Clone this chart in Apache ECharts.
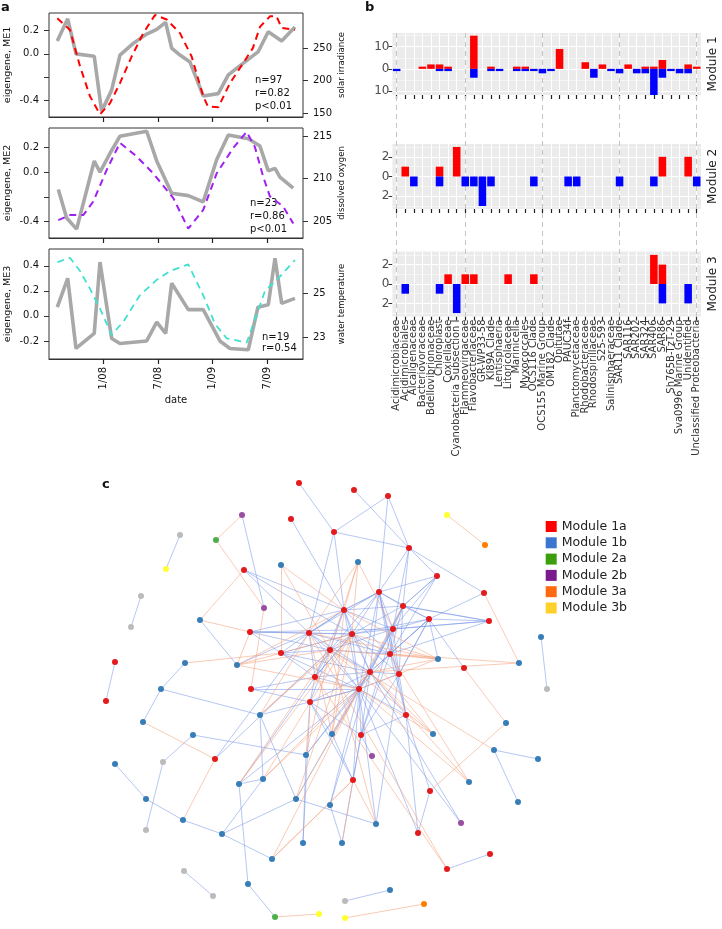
<!DOCTYPE html>
<html><head><meta charset="utf-8">
<script src="https://cdn.jsdelivr.net/npm/echarts@6/dist/echarts.min.js"></script>
<style>html,body{margin:0;padding:0;background:#fff}#c{width:722px;height:929px}</style>
</head><body><div id="c"></div>
<script>
// ---------- Panel a data (x = months since Jan 2007) ----------
const tickMonths = [12, 18, 24, 30];
const tickLabels = ['1/08', '7/08', '1/09', '7/09'];

const me1Months = [6.96, 8.10, 9.01, 11.01, 11.82, 12.92, 13.83, 15.29, 16.76, 17.86, 18.84, 19.5, 20.41, 21.51, 22.96, 24.61, 25.71, 27.18, 29.0, 30.09, 31.56, 33.02];
const me1 = [0.11, 0.30, 0.0, -0.02, -0.49, -0.31, -0.01, 0.09, 0.17, 0.21, 0.27, 0.05, -0.01, -0.07, -0.36, -0.34, -0.18, -0.09, 0.02, 0.19, 0.11, 0.23];
const solarMonths = [6.96, 8.35, 9.45, 10.54, 11.64, 12.73, 13.83, 15.11, 16.39, 17.67, 18.95, 20.41, 21.69, 22.96, 23.48, 24.61, 25.89, 27.35, 28.4, 29.2, 30.29, 31.0, 31.56, 33.02];
const solar = [296, 278, 222, 176, 148, 165, 196, 237, 273, 301, 294, 273, 237, 176, 160, 159, 196, 227, 250, 283, 299, 299, 281, 278];

const me2Months = [7.07, 7.99, 9.08, 11.01, 11.64, 12.73, 13.83, 16.76, 17.86, 19.5, 21.32, 22.96, 24.43, 25.71, 27.9, 29.18, 30.09, 30.83, 31.37, 32.83];
const me2 = [-0.14, -0.37, -0.46, 0.09, 0.0, 0.15, 0.29, 0.33, 0.09, -0.17, -0.19, -0.24, 0.10, 0.30, 0.27, 0.21, 0.01, 0.03, -0.04, -0.13];
const oxyMonths = [7.07, 8.35, 9.81, 10.9, 12.37, 13.83, 15.66, 17.48, 19.68, 21.32, 22.96, 24.43, 26.25, 27.72, 28.63, 29.54, 30.27, 31.73, 32.83];
const oxygen = [205.1, 205.7, 205.7, 207.3, 211.0, 214.2, 212.6, 210.6, 207.7, 204.1, 206.3, 210.6, 213.6, 215.5, 213.7, 210.2, 207.9, 206.7, 204.7];

const me3Months = [6.96, 8.10, 9.01, 11.01, 11.64, 12.92, 13.83, 16.76, 17.86, 18.84, 19.5, 21.32, 22.96, 24.79, 25.89, 27.9, 28.96, 30.09, 30.83, 31.56, 33.02];
const me3 = [0.07, 0.30, -0.26, -0.14, 0.43, -0.18, -0.22, -0.20, -0.05, -0.14, 0.26, 0.05, 0.05, -0.20, -0.26, -0.27, 0.07, 0.09, 0.46, 0.10, 0.14];
const tempMonths = [6.96, 8.35, 9.45, 10.54, 11.64, 12.92, 14.19, 16.02, 17.86, 19.32, 21.32, 22.96, 24.25, 25.53, 27.72, 28.63, 29.73, 31.37, 33.02];
const temp = [26.4, 26.6, 26.0, 25.2, 24.3, 23.1, 23.7, 24.9, 25.6, 26.0, 26.3, 24.9, 23.6, 22.95, 22.75, 23.8, 25.1, 25.75, 26.5];

const stats1 = ['n=97', 'r=0.82', 'p<0.01'];
const stats2 = ['n=23', 'r=0.86', 'p<0.01'];
const stats3 = ['n=19', 'r=0.54'];

// ---------- Panel b data ----------
const categories = ['Acidimicrobiaceae', 'Acidimicrobiales', 'Alcaligenaceae', 'Bacteriovoraceae', 'Bdellovibrionaceae', 'Chloroplast', 'Coxiellaceae', 'Cyanobacteria Subsection I', 'Flammeovirgaceae', 'Flavobacteriaceae', 'GR-WP33-58', 'KI89A Clade', 'Lentisphaeria', 'Litoricolaceae', 'Marinicella', 'Myxococcales', 'OCS116 Clade', 'OCS155 Marine Group', 'OM182 Clade', 'Opitutae', 'PAUC34f', 'Planctomycetaceae', 'Rhodobacteraceae', 'Rhodospirillaceae', 'S25-593', 'Salinisphaeraceae', 'SAR11 Clade', 'SAR116', 'SAR202', 'SAR324', 'SAR406', 'SAR86', 'Sh765B-TzT-29', 'Sva0996 Marine Group', 'Unidentified', 'Unclassified Proteobacteria'];
const m1Pos = [0, 0, 0, 1, 2, 2, 1, 0, 0, 15, 0, 1, 0, 0, 1, 1, 0, 0, 0, 9, 0, 0, 3, 0, 2, 0, 0, 2, 0, 1, 1, 4, 0, 0, 2, 1];
const m1Neg = [-1, 0, 0, 0, 0, -1, -1, 0, 0, -4, 0, -1, -1, 0, -1, -1, -1, -2, -1, 0, 0, 0, 0, -4, 0, -1, -2, 0, -2, -2, -12, -4, -1, -2, -2, 0];
const m2Pos = [0, 1, 0, 0, 0, 1, 0, 3, 0, 0, 0, 0, 0, 0, 0, 0, 0, 0, 0, 0, 0, 0, 0, 0, 0, 0, 0, 0, 0, 0, 0, 2, 0, 0, 2, 0];
const m2Neg = [0, 0, -1, 0, 0, -1, 0, 0, -1, -1, -3, -1, 0, 0, 0, 0, -1, 0, 0, 0, -1, -1, 0, 0, 0, 0, -1, 0, 0, 0, -1, 0, 0, 0, 0, -1];
const m3Pos = [0, 0, 0, 0, 0, 0, 1, 0, 1, 1, 0, 0, 0, 1, 0, 0, 1, 0, 0, 0, 0, 0, 0, 0, 0, 0, 0, 0, 0, 0, 3, 2, 0, 0, 0, 0];
const m3Neg = [0, -1, 0, 0, 0, -1, 0, -3, 0, 0, 0, 0, 0, 0, 0, 0, 0, 0, 0, 0, 0, 0, 0, 0, 0, 0, 0, 0, 0, 0, 0, -2, 0, 0, -2, 0];
const moduleNames = ['Module 1', 'Module 2', 'Module 3'];
const dashedCats = ['Acidimicrobiaceae', 'Flammeovirgaceae', 'OCS155 Marine Group', 'SAR11 Clade', 'Unclassified Proteobacteria'];

// ---------- Panel c data (layout coordinates) ----------
const legendNames = ['Module 1a', 'Module 1b', 'Module 2a', 'Module 2b', 'Module 3a', 'Module 3b'];
// 0=1a,1=1b,2=2a,3=2b,4=3a,5=3b,6=unassigned
const nodeX = [299, 354, 388, 242, 291, 180, 216, 334, 409, 166, 244, 281, 358, 379, 141, 264, 344, 403, 131, 200, 250, 309, 352, 393, 281, 330, 390, 115, 185, 237, 315, 370, 399, 161, 251, 359, 447, 485, 437, 484, 429, 489, 541, 438, 519, 464, 547, 106, 310, 143, 260, 406, 193, 332, 361, 306, 372, 215, 163, 115, 263, 239, 353, 146, 296, 330, 183, 376, 146, 222, 303, 342, 272, 184, 248, 390, 213, 345, 275, 506, 433, 494, 538, 469, 430, 518, 461, 418, 490, 447, 424, 319, 345];
const nodeY = [483, 490, 496, 515, 519, 535, 540, 532, 548, 569, 570, 565, 562, 592, 596, 608, 610, 606, 627, 620, 632, 633, 634, 629, 653, 650, 654, 662, 663, 665, 677, 672, 674, 689, 689, 689, 515, 545, 576, 593, 619, 621, 637, 659, 663, 668, 689, 701, 702, 722, 715, 715, 735, 734, 735, 755, 756, 759, 762, 764, 779, 784, 780, 799, 799, 805, 820, 824, 830, 834, 843, 843, 859, 871, 884, 890, 896, 901, 917, 723, 734, 750, 759, 782, 791, 802, 823, 833, 854, 869, 904, 914, 918];
const nodeModule = [0, 0, 0, 3, 0, 6, 2, 0, 0, 5, 0, 1, 1, 0, 6, 3, 0, 0, 6, 1, 0, 0, 0, 0, 0, 0, 0, 0, 1, 1, 0, 0, 0, 1, 0, 0, 5, 4, 0, 0, 0, 0, 1, 1, 1, 0, 6, 0, 0, 1, 1, 0, 1, 1, 0, 1, 3, 0, 6, 1, 1, 1, 0, 1, 1, 1, 1, 1, 6, 1, 1, 1, 1, 6, 1, 1, 6, 6, 2, 1, 1, 1, 1, 1, 0, 1, 3, 0, 0, 0, 4, 5, 5];
const posEdges = [[0,7],[7,2],[1,8],[7,8],[7,16],[7,21],[4,16],[3,15],[10,16],[2,8],[2,13],[8,39],[8,38],[8,17],[8,23],[38,17],[38,13],[39,40],[41,17],[41,23],[41,40],[40,43],[40,45],[42,46],[81,82],[81,85],[84,87],[89,88],[75,77],[27,47],[33,49],[28,33],[52,58],[52,55],[50,60],[33,50],[50,64],[58,68],[59,63],[63,66],[66,69],[69,72],[69,60],[69,64],[61,74],[74,78],[73,76],[60,61],[64,67],[55,70],[65,71],[62,54],[62,48],[54,56],[14,18],[5,9],[19,29],[61,35],[61,30],[57,25],[57,21],[86,35],[86,31],[87,35],[29,21],
[13,16],[13,17],[13,21],[13,22],[13,23],[13,25],[13,26],[13,31],[13,32],[13,35],[13,40],[16,17],[16,21],[16,22],[16,23],[16,25],[16,26],[16,31],[16,35],[16,30],[17,22],[17,23],[17,26],[17,31],[17,32],[17,35],[17,40],[20,21],[20,22],[20,24],[20,25],[20,23],[21,22],[21,24],[21,25],[21,30],[21,31],[21,35],[21,26],[22,23],[22,25],[22,26],[22,31],[22,32],[22,35],[22,30],[23,26],[23,31],[23,32],[23,35],[23,25],[24,25],[24,30],[24,35],[24,31],[25,26],[25,30],[25,31],[25,35],[25,48],[26,31],[26,32],[26,35],[26,51],[30,31],[30,35],[30,48],[30,34],[31,32],[31,35],[31,51],[31,54],[32,35],[32,51],[32,40],[35,48],[35,54],[35,51],[35,62],[34,48],[34,35],[38,23],[38,26],[40,26],[40,32],[48,54],[48,53],[51,54],[51,84],[51,87],[35,53],[53,62],[50,35],[55,35],[55,31],[64,35],[65,35],[65,31],[67,35],[67,32],[71,54],[70,48],
[13,8],[16,13],[17,38],[21,16],[22,40],[26,40],[23,40],[31,40],[17,41],[23,41],[26,41],[30,22],[24,22],[20,16],[10,21],[10,22],[31,48],[32,54],[26,54],[23,54],[13,51]];
const negEdges = [[3,6],[6,15],[10,19],[11,25],[11,24],[12,16],[12,22],[12,25],[12,23],[15,34],[19,20],[28,24],[29,20],[29,22],[29,25],[29,35],[36,37],[39,44],[45,79],[79,84],[62,71],[62,72],[49,57],[57,66],[90,92],[78,91],[43,22],[43,25],[43,35],[43,31],[43,26],[80,35],[80,31],[80,25],[80,22],[83,35],[83,31],[83,26],[81,25],[89,21],[89,30],[53,16],[53,21],[53,22],[53,17],[55,48],[55,25],[60,35],[60,22],[60,31],[64,22],[64,31],[67,62],[67,25],[72,62],[72,35],[50,21],[50,22],[50,25],[61,22],[61,25],[43,21],[43,16],[44,26],[44,31],[29,16],[11,16],[12,21]];

// ---------- styles ----------
const FONT = 'DejaVu Sans';
const legendColors = ['#ff0000', '#3a75cf', '#3d9e0c', '#7a1a8e', '#ff6a10', '#ffcf2a'];
const nodeColors = ['#e41a1c', '#377eb8', '#4daf4a', '#984ea3', '#ff7f00', '#ffff33', '#bbbbbb'];

const chart = echarts.init(document.getElementById('c'));
const zip = (a, b) => a.map((v, i) => [v, b[i]]);

const boxGrid = (top, h) => ({left: 49, top: top, width: 254, height: h, show: true, borderColor: '#333', borderWidth: 1, backgroundColor: 'transparent'});
const bGrid = (top, h) => ({left: 392.4, top: top, width: 308.6, height: h, show: true, backgroundColor: '#ebebeb', borderWidth: 0});
const grid = [boxGrid(13, 104), boxGrid(128, 110), boxGrid(249, 110),
  bGrid(33, 62), bGrid(144, 65), bGrid(251.5, 65),
  {left: 392.4, top: 33, width: 308.6, height: 284, show: false},
  {left: 90, top: 470, width: 600, height: 459, show: false}];

const aX = (gi, showLabels) => ({
  type: 'value', gridIndex: gi, min: 6.05, max: 33.9,
  axisLine: {show: true, onZero: false, lineStyle: {color: '#333', width: 1}}, splitLine: {show: false},
  axisTick: {show: true, length: 5, lineStyle: {color: '#222', width: 1.2}, customValues: tickMonths},
  axisLabel: {show: showLabels, customValues: tickMonths, rotate: 90, margin: 8, fontSize: 10, fontFamily: FONT, color: '#111',
    formatter: v => tickLabels[tickMonths.indexOf(v)] || ''},
  name: showLabels ? 'date' : '', nameLocation: 'middle', nameGap: 36, nameTextStyle: {fontSize: 10, fontFamily: FONT, color: '#111'}
});
const aY = (gi, pos, min, max, ticks, labels, name, fmt, nameGap, fs) => ({
  type: 'value', gridIndex: gi, position: pos, min: min, max: max,
  axisLine: {show: false, onZero: false}, splitLine: {show: false},
  axisTick: {show: true, length: 5, lineStyle: {color: '#333'}, customValues: ticks},
  axisLabel: {customValues: labels, margin: 10, fontSize: 10, fontFamily: FONT, color: '#111', formatter: fmt},
  name: name, nameLocation: 'middle', nameRotate: 90, nameGap: nameGap,
  nameTextStyle: {fontSize: fs, fontFamily: FONT, color: '#111'}
});
const f1 = v => v.toFixed(1);
const f0 = v => String(Math.round(v));

const bX = (gi, showLabels) => ({
  type: 'category', gridIndex: gi, data: categories, boundaryGap: true,
  axisLine: {show: true, onZero: false, lineStyle: {color: 'rgba(0,0,0,0)'}}, splitLine: {show: false},
  axisTick: {show: true, alignWithLabel: true, interval: 0, length: 4, lineStyle: {color: '#222', width: 1.2}},
  axisLabel: {show: showLabels, interval: 0, rotate: 90, margin: 3, fontSize: 10, fontFamily: FONT, color: '#333'}
});
const bY = (gi, min, max, ticks) => ({
  type: 'value', gridIndex: gi, min: min, max: max,
  axisLine: {show: false, onZero: false}, splitLine: {show: false},
  axisTick: {show: true, length: 4, lineStyle: {color: '#333'}, customValues: ticks},
  axisLabel: {customValues: ticks, margin: 3, fontSize: 12, fontFamily: FONT, color: '#4d4d4d', formatter: v => String(Math.abs(v))}
});

const xAxis = [aX(0, false), aX(1, false), aX(2, true), bX(3, false), bX(4, false), bX(5, true),
  {type: 'category', gridIndex: 6, data: categories, show: false},
  {type: 'value', gridIndex: 7, min: 90, max: 690, show: false}];
const yAxis = [
  aY(0, 'left', -0.54, 0.35, [-0.4, -0.2, 0, 0.2], [-0.4, 0, 0.2], 'eigengene, ME1', f1, 36, 9.5),
  aY(0, 'right', 144, 304, [150, 200, 250], [150, 200, 250], 'solar irradiance', f0, 34, 8.5),
  aY(1, 'left', -0.532, 0.356, [-0.4, -0.2, 0, 0.2], [-0.4, 0, 0.2], 'eigengene, ME2', f1, 36, 9.5),
  aY(1, 'right', 203, 215.95, [205, 210, 215], [205, 210, 215], 'dissolved oxygen', f0, 34, 8.5),
  aY(2, 'left', -0.344, 0.534, [-0.2, 0, 0.2, 0.4], [-0.2, 0, 0.2, 0.4], 'eigengene, ME3', f1, 36, 9.5),
  aY(2, 'right', 22.01, 27.0, [23, 25], [23, 25], 'water temperature', f0, 34, 8.5),
  bY(3, -11.8, 16.2, [-10, 0, 10]),
  bY(4, -3.3, 3.3, [-2, 0, 2]),
  bY(5, -3.35, 3.35, [-2, 0, 2]),
  {type: 'value', gridIndex: 6, min: 0, max: 1, show: false},
  {type: 'value', gridIndex: 7, min: 470, max: 929, inverse: true, show: false}
];

const series = [];
const greyLine = (xi, yi, data) => ({type: 'line', xAxisIndex: xi, yAxisIndex: yi, data: data, symbol: 'none', z: 3,
  lineStyle: {color: '#a8a8a8', width: 3.6}, silent: true, animation: false});
const dashLine = (xi, yi, data, color, w) => ({type: 'line', xAxisIndex: xi, yAxisIndex: yi, data: data, symbol: 'none', z: 4,
  lineStyle: {color: color, width: w, type: [7, 5]}, silent: true, animation: false});
series.push(greyLine(0, 0, zip(me1Months, me1)));
series.push(dashLine(0, 1, zip(solarMonths, solar), '#ff0000', 2));
series.push(greyLine(1, 2, zip(me2Months, me2)));
series.push(dashLine(1, 3, zip(oxyMonths, oxygen), '#a020f0', 2));
series.push(greyLine(2, 4, zip(me3Months, me3)));
series.push(dashLine(2, 5, zip(tempMonths, temp), '#40e0d0', 1.8));

// panel b
const modPos = [m1Pos, m2Pos, m3Pos], modNeg = [m1Neg, m2Neg, m3Neg];
const majors = [[-10, 0, 10], [-2, 0, 2], [-2, 0, 2]];
const minors = [[-5, 5, 15], [-3, -1, 1, 3], [-3, -1, 1, 3]];
for (let m = 0; m < 3; m++) {
  const lines = [];
  majors[m].forEach(v => lines.push({yAxis: v, lineStyle: {width: 1.1}}));
  minors[m].forEach(v => lines.push({yAxis: v, lineStyle: {width: 0.5}}));
  categories.forEach(c => lines.push({xAxis: c, lineStyle: {width: 1.1}}));
  series.push({type: 'line', xAxisIndex: 3 + m, yAxisIndex: 6 + m, data: [], z: 1, silent: true, animation: false,
    markLine: {silent: true, animation: false, z: 1, symbol: ['none', 'none'], label: {show: false},
      lineStyle: {color: '#ffffff', type: 'solid'}, data: lines}});
  series.push({type: 'bar', xAxisIndex: 3 + m, yAxisIndex: 6 + m, stack: 'mod' + m, data: modPos[m], barWidth: '88%', z: 3,
    itemStyle: {color: '#ff0000'}, silent: true, animation: false});
  series.push({type: 'bar', xAxisIndex: 3 + m, yAxisIndex: 6 + m, stack: 'mod' + m, data: modNeg[m], barWidth: '88%', z: 3,
    itemStyle: {color: '#0000ff'}, silent: true, animation: false});
}
series.push({type: 'line', xAxisIndex: 6, yAxisIndex: 9, data: [], z: 2, silent: true, animation: false,
  markLine: {silent: true, animation: false, z: 2, symbol: ['none', 'none'], label: {show: false},
    lineStyle: {color: '#c4c4c4', type: [5, 4], width: 1}, data: dashedCats.map(c => ({xAxis: c}))}});

// panel c
const graphCats = legendNames.concat(['unassigned']).map((n, i) => ({name: n, itemStyle: {color: nodeColors[i]}}));
const nodes = nodeX.map((x, i) => ({name: 'n' + i, value: [x, nodeY[i]], category: nodeModule[i]}));
const links = [];
posEdges.forEach(e => links.push({source: e[0], target: e[1], lineStyle: {color: '#6f8fe8', opacity: 0.5, width: 1}}));
negEdges.forEach(e => links.push({source: e[0], target: e[1], lineStyle: {color: '#f4a07c', opacity: 0.55, width: 1}}));
series.push({type: 'graph', coordinateSystem: 'cartesian2d', xAxisIndex: 7, yAxisIndex: 10, layout: 'none',
  data: nodes, links: links, categories: graphCats, symbolSize: 6, silent: true, animation: false,
  label: {show: false}, emphasis: {disabled: true}, lineStyle: {curveness: 0}, z: 3});

const txt = (x, y, s, opts) => Object.assign({type: 'text', x: x, y: y, style: Object.assign({text: s, fontFamily: FONT, fontSize: 10, fill: '#111', verticalAlign: 'middle'}, opts || {})});
const graphic = [
  txt(1, 8, 'a', {fontSize: 13, fontWeight: 'bold'}),
  txt(365, 8, 'b', {fontSize: 13, fontWeight: 'bold'}),
  txt(102, 485, 'c', {fontSize: 13, fontWeight: 'bold'})
];
stats1.forEach((s, i) => graphic.push(txt(255, 80 + i * 13.3, s)));
stats2.forEach((s, i) => graphic.push(txt(250, 203.3 + i * 13, s)));
stats3.forEach((s, i) => graphic.push(txt(262, 337.3 + i * 11, s)));
const modCenters = [64, 176.5, 284];
moduleNames.forEach((s, i) => graphic.push({type: 'text', x: 713, y: modCenters[i], rotation: Math.PI / 2,
  style: {text: s, fontFamily: FONT, fontSize: 12, fill: '#1a1a1a', align: 'center', verticalAlign: 'middle'}}));

chart.setOption({
  animation: false,
  grid: grid, xAxis: xAxis, yAxis: yAxis, series: series, graphic: graphic,
  legend: {orient: 'vertical', left: 540.7, top: 515, itemWidth: 11, itemHeight: 11, itemGap: 3.3, icon: 'rect', selectedMode: false,
    textStyle: {fontSize: 12.5, fontFamily: FONT, color: '#222'},
    data: legendNames.map((n, i) => ({name: n, itemStyle: {color: legendColors[i]}}))}
});
</script></body></html>
